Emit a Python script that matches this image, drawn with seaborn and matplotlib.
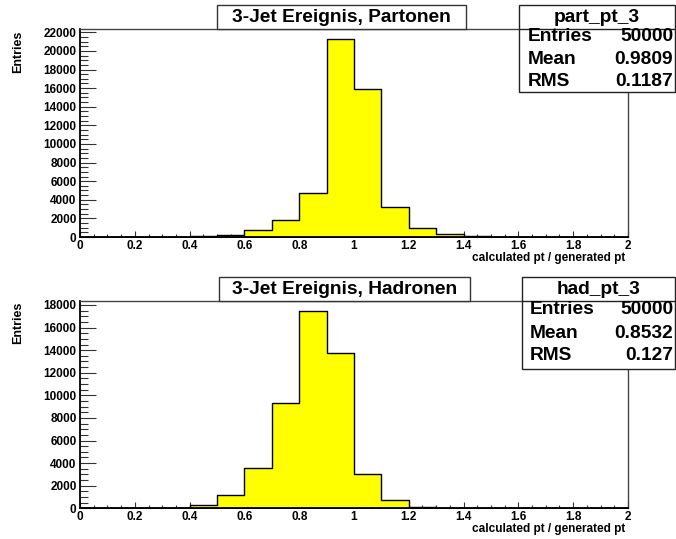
import numpy as np
import pandas as pd
import matplotlib
matplotlib.use("Agg")
import matplotlib.pyplot as plt
from matplotlib.ticker import MultipleLocator, FuncFormatter
from matplotlib.patches import Rectangle
import seaborn as sns

# ---- data ----
bin_edges = [round(0.1 * i, 1) for i in range(21)]
parton_counts = [0, 0, 0, 10, 100, 200, 700, 1800, 4770, 21250,
                 15950, 3260, 940, 290, 80, 20, 0, 0, 0, 0]
hadron_counts = [0, 0, 20, 60, 300, 1180, 3540, 9350, 17500, 13720,
                 3010, 770, 150, 40, 10, 0, 0, 0, 0, 0]
titles = ["3-Jet Ereignis, Partonen", "3-Jet Ereignis, Hadronen"]
stat_names = ["part_pt_3", "had_pt_3"]
stat_entries = ["50000", "50000"]
stat_means = ["0.9809", "0.8532"]
stat_rms = ["0.1187", "0.127"]
x_label = "calculated pt / generated pt"
y_label = "Entries"

W, H = 676, 539
sns.set_theme(style="white")
plt.rcParams['font.family'] = ['Liberation Sans', 'DejaVu Sans']
plt.rcParams['font.weight'] = 'bold'
plt.rcParams['text.color'] = 'black'
plt.rcParams['xtick.color'] = 'black'
plt.rcParams['ytick.color'] = 'black'

fig = plt.figure(figsize=(W / 100, H / 100), dpi=100)

def fx(x):
    return x / W

def fy(y):
    return 1 - y / H

# axes rectangles in pixel coords: left, top, right, bottom
axes_px = [(80, 29.3, 628, 237.0), (80, 300.7, 628, 508.3)]
ymaxes = [22320, 18380]
all_counts = [parton_counts, hadron_counts]
title_boxes = [(217, 5, 466, 29), (219, 277, 470, 301)]
stat_boxes = [(519, 5, 675, 92), (522, 277, 675, 369)]
stat_header_line = [29, 301]
stat_rows_y = [(36, 59, 81), (309, 333, 356)]
stat_label_x = [528, 530]

centers = [round(e + 0.05, 2) for e in bin_edges[:-1]]

for i in range(2):
    l, t, r, b = axes_px[i]
    ax = fig.add_axes([fx(l), fy(b), fx(r) - fx(l), fy(t) - fy(b)])
    df = pd.DataFrame({"x": centers, "w": all_counts[i]})
    sns.histplot(data=df, x="x", weights="w", bins=bin_edges, element="step",
                 fill=True, color="#ffff00", alpha=1.0, edgecolor="black",
                 linewidth=1.0, ax=ax)
    ax.set_xlim(0, 2)
    ax.set_ylim(0, ymaxes[i])
    ax.xaxis.set_major_locator(MultipleLocator(0.2))
    ax.xaxis.set_minor_locator(MultipleLocator(0.05))
    ax.yaxis.set_major_locator(MultipleLocator(2000))
    ax.yaxis.set_minor_locator(MultipleLocator(500))
    ax.xaxis.set_major_formatter(FuncFormatter(lambda v, p: "%g" % round(v, 2)))
    ax.yaxis.set_major_formatter(FuncFormatter(lambda v, p: "%d" % v))
    ax.tick_params(axis="x", which="major", direction="in", length=4.3, width=0.8,
                   color="#333333", labelcolor="black", labelsize=8.5, pad=2.0,
                   bottom=True, top=False)
    ax.tick_params(axis="x", which="minor", direction="in", length=2.2, width=0.8,
                   color="#333333", bottom=True, top=False)
    ax.tick_params(axis="y", which="major", direction="in", length=11.5, width=0.8,
                   color="#333333", labelcolor="black", labelsize=8.5, pad=2.5,
                   left=True, right=False)
    ax.tick_params(axis="y", which="minor", direction="in", length=5.8, width=0.8,
                   color="#333333", left=True, right=False)
    for lab in ax.get_xticklabels() + ax.get_yticklabels():
        lab.set_fontweight("bold")
    for s in ["left", "bottom"]:
        ax.spines[s].set_color("black")
        ax.spines[s].set_linewidth(1.3)
    for s in ["top", "right"]:
        ax.spines[s].set_color("#444444")
        ax.spines[s].set_linewidth(1.0)
    ax.set_xlabel("")
    ax.set_ylabel("")
    # axis labels (ROOT style, right-aligned)
    fig.text(fx(625), fy(b + 21), x_label, ha="right", va="center",
             fontsize=8.5, fontweight="bold", color="black")
    fig.text(fx(18), fy(t + 1), y_label, ha="center", va="top", rotation=90,
             fontsize=9, fontweight="bold", color="black")

    # title box
    x0, y0, x1, y1 = title_boxes[i]
    fig.patches.append(Rectangle((fx(x0), fy(y1)), fx(x1) - fx(x0), fy(y0) - fy(y1),
                                 transform=fig.transFigure, facecolor="white",
                                 edgecolor="#333333", linewidth=1.0, zorder=5))
    fig.text(fx((x0 + x1) / 2), fy((y0 + y1) / 2 + 0.5), titles[i], ha="center",
             va="center", fontsize=13.8, fontweight="bold", color="black", zorder=6)

    # stats box
    x0, y0, x1, y1 = stat_boxes[i]
    fig.patches.append(Rectangle((fx(x0), fy(y1)), fx(x1) - fx(x0), fy(y0) - fy(y1),
                                 transform=fig.transFigure, facecolor="white",
                                 edgecolor="#222222", linewidth=1.0, zorder=5))
    hl = stat_header_line[i]
    fig.lines.append(plt.Line2D([fx(x0), fx(x1)], [fy(hl), fy(hl)],
                                transform=fig.transFigure, color="#222222",
                                linewidth=1.0, zorder=6))
    fig.text(fx((x0 + x1) / 2), fy((y0 + hl) / 2 + 0.5), stat_names[i], ha="center",
             va="center", fontsize=13.8, fontweight="bold", color="black", zorder=6)
    rows = [("Entries", stat_entries[i]), ("Mean", stat_means[i]), ("RMS", stat_rms[i])]
    for (name, val), ry in zip(rows, stat_rows_y[i]):
        fig.text(fx(stat_label_x[i]), fy(ry), name, ha="left", va="center",
                 fontsize=13.8, fontweight="bold", color="black", zorder=6)
        fig.text(fx(673), fy(ry), val, ha="right", va="center",
                 fontsize=13.8, fontweight="bold", color="black", zorder=6)

fig.savefig("out.png", dpi=100, facecolor="white")
